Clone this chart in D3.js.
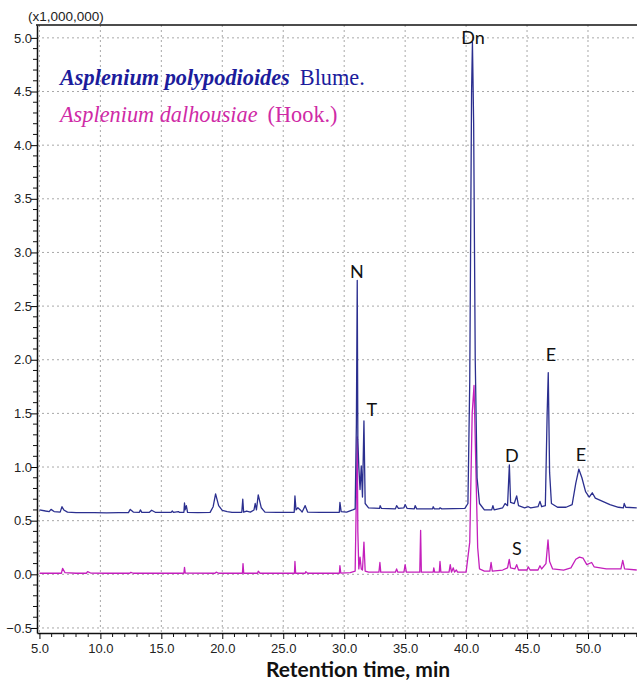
<!DOCTYPE html>
<html>
<head>
<meta charset="utf-8">
<script src="https://cdn.jsdelivr.net/npm/d3@7"></script>
<style>
  body { margin: 0; background: #fff; }
  svg { display: block; }
</style>
</head>
<body>
<svg id="chart" width="637" height="682"></svg>
<script>
// retention time (min) / intensity (x1,000,000)
var blueTime = [5.0, 5.5, 5.8, 5.95, 6.2, 6.7, 6.85, 7.0, 7.3, 8.0, 9.5, 10.5, 11.5, 12.3, 12.45, 12.7, 13.2, 13.28, 13.4, 14.0,
    14.2, 14.5, 15.8, 15.9, 16.0, 16.4, 16.5, 16.85, 16.9, 16.95, 17.05, 17.15, 18.0, 19.0, 19.25, 19.45, 19.7, 20.0, 20.4, 20.8,
    21.6, 21.68, 21.75, 22.0, 22.3, 22.6, 22.7, 22.8, 22.95, 23.2, 23.5, 24.5, 25.9, 25.96, 26.05, 26.2, 26.4, 26.55, 26.8, 27.0,
    28.0, 29.6, 29.65, 29.75, 30.2, 30.7, 30.9, 31.0, 31.07, 31.12, 31.2, 31.3, 31.4, 31.5, 31.62, 31.72, 32.0, 32.9, 32.95, 33.05,
    34.2, 34.3, 34.45, 34.9, 35.0, 35.15, 35.75, 35.82, 35.95, 37.25, 37.3, 37.4, 37.8, 37.86, 38.0, 39.9, 40.15, 40.3, 40.45, 40.52,
    40.62, 40.75, 40.9, 41.1, 41.5, 42.1, 42.2, 42.3, 43.0, 43.2, 43.4, 43.55, 43.65, 43.95, 44.15, 44.3, 44.8, 45.1, 45.3, 45.9,
    46.06, 46.2, 46.5, 46.65, 46.74, 46.85, 47.0, 47.5, 48.2, 48.7, 49.0, 49.25, 49.5, 49.8, 50.1, 50.35, 50.6, 51.2, 51.8, 52.5,
    52.9, 52.97, 53.1, 54.0];
var blueValue = [0.60, 0.59, 0.585, 0.605, 0.585, 0.58, 0.63, 0.60, 0.58, 0.575, 0.575, 0.573, 0.575, 0.575, 0.605, 0.58, 0.578, 0.60, 0.577, 0.577,
    0.597, 0.578, 0.577, 0.59, 0.577, 0.585, 0.577, 0.578, 0.665, 0.60, 0.64, 0.578, 0.575, 0.577, 0.63, 0.75, 0.64, 0.595, 0.585, 0.578,
    0.578, 0.70, 0.58, 0.59, 0.58, 0.60, 0.66, 0.60, 0.74, 0.62, 0.58, 0.577, 0.578, 0.73, 0.60, 0.62, 0.60, 0.58, 0.64, 0.58,
    0.577, 0.578, 0.67, 0.585, 0.58, 0.60, 0.61, 1.40, 2.74, 1.26, 1.00, 0.79, 1.01, 0.72, 1.43, 0.66, 0.62, 0.615, 0.64, 0.615,
    0.61, 0.64, 0.615, 0.62, 0.65, 0.615, 0.61, 0.64, 0.61, 0.61, 0.63, 0.61, 0.61, 0.62, 0.61, 0.615, 0.66, 1.80, 4.50, 4.96,
    4.20, 2.00, 0.90, 0.66, 0.60, 0.60, 0.64, 0.60, 0.62, 0.66, 0.64, 1.02, 0.67, 0.66, 0.73, 0.64, 0.62, 0.63, 0.62, 0.63,
    0.68, 0.63, 0.64, 1.50, 1.88, 0.95, 0.66, 0.625, 0.625, 0.65, 0.85, 0.98, 0.90, 0.77, 0.72, 0.76, 0.71, 0.68, 0.65, 0.625,
    0.62, 0.66, 0.625, 0.62];

var pinkTime = [5.0, 6.8, 6.9, 7.1, 8.0, 8.85, 8.95, 9.2, 10.5, 12.4, 12.5, 12.7, 16.85, 16.9, 16.96, 19.4, 19.5, 19.7, 21.65, 21.7,
    21.76, 22.9, 22.95, 23.1, 25.92, 25.96, 26.02, 26.8, 26.85, 27.0, 29.6, 29.65, 29.72, 30.5, 30.9, 31.02, 31.07, 31.12, 31.2, 31.3,
    31.4, 31.5, 31.62, 31.72, 32.0, 32.85, 32.93, 33.0, 34.2, 34.3, 34.4, 34.9, 35.0, 35.1, 36.2, 36.27, 36.33, 37.3, 37.35, 37.42,
    37.8, 37.86, 37.93, 38.6, 38.7, 38.8, 38.95, 39.05, 39.2, 39.3, 40.0, 40.3, 40.5, 40.65, 40.8, 40.95, 41.1, 41.5, 41.95, 42.05,
    42.15, 43.0, 43.4, 43.54, 43.65, 44.0, 44.15, 44.3, 45.0, 45.1, 45.25, 45.9, 46.06, 46.2, 46.55, 46.72, 46.85, 47.1, 48.0, 48.6,
    49.0, 49.3, 49.6, 49.9, 50.3, 50.5, 51.5, 52.7, 52.85, 53.0, 54.0];
var pinkValue = [0.01, 0.01, 0.055, 0.015, 0.01, 0.01, 0.025, 0.012, 0.01, 0.01, 0.018, 0.01, 0.01, 0.065, 0.012, 0.01, 0.02, 0.01, 0.01, 0.10,
    0.01, 0.01, 0.03, 0.01, 0.01, 0.12, 0.01, 0.01, 0.025, 0.01, 0.01, 0.08, 0.012, 0.015, 0.03, 0.90, 1.28, 0.40, 0.05, 0.16,
    0.05, 0.04, 0.30, 0.03, 0.02, 0.02, 0.11, 0.02, 0.02, 0.05, 0.02, 0.02, 0.09, 0.02, 0.02, 0.41, 0.02, 0.02, 0.06, 0.02,
    0.02, 0.12, 0.02, 0.02, 0.09, 0.02, 0.06, 0.02, 0.04, 0.02, 0.02, 0.30, 1.50, 1.76, 1.00, 0.25, 0.05, 0.03, 0.03, 0.11,
    0.03, 0.04, 0.06, 0.14, 0.06, 0.05, 0.09, 0.04, 0.04, 0.07, 0.04, 0.04, 0.08, 0.05, 0.10, 0.32, 0.12, 0.05, 0.04, 0.06,
    0.14, 0.16, 0.15, 0.09, 0.11, 0.07, 0.05, 0.05, 0.13, 0.05, 0.04];

// peak labels: text, time, intensity of the label baseline
var peakNames = ["Dn", "N", "T", "E", "D", "E", "S"];
var peakTimes = [40.56, 31.05, 32.27, 46.96, 43.76, 49.42, 44.17];
var peakLevels = [4.94, 2.76, 1.48, 1.99, 1.05, 1.06, 0.18];

var xTicks = [5, 10, 15, 20, 25, 30, 35, 40, 45, 50];
var yTicks = [-0.5, 0, 0.5, 1, 1.5, 2, 2.5, 3, 3.5, 4, 4.5, 5];

var blueColor = "#2b2f8f";
var pinkColor = "#c41fbc";

var svg = d3.select("#chart");

var chartX = d3.scaleLinear().domain([4.8, 54.02]).range([37, 637]);
var chartY = d3.scaleLinear().domain([-0.547, 5.12]).range([633, 25]);

/* grid */
svg.append("g")
    .selectAll("line")
    .data(xTicks)
    .enter().append("line")
    .attr("x1", function (d) { return chartX(d); })
    .attr("x2", function (d) { return chartX(d); })
    .attr("y1", 25)
    .attr("y2", 633)
    .attr("stroke", "#a8a8a8")
    .attr("stroke-width", 1)
    .attr("stroke-dasharray", "2,3");

svg.append("g")
    .selectAll("line")
    .data(yTicks)
    .enter().append("line")
    .attr("x1", 37)
    .attr("x2", 637)
    .attr("y1", function (d) { return chartY(d); })
    .attr("y2", function (d) { return chartY(d); })
    .attr("stroke", "#a8a8a8")
    .attr("stroke-width", 1)
    .attr("stroke-dasharray", "2,3");

/* traces */
var valueline = d3.line()
    .x(function (d) { return chartX(d[0]); })
    .y(function (d) { return chartY(d[1]); });

var pinkData = d3.zip(pinkTime, pinkValue);
var blueData = d3.zip(blueTime, blueValue);

svg.append("path")
    .attr("d", valueline(pinkData))
    .attr("fill", "none")
    .attr("stroke", pinkColor)
    .attr("stroke-width", 1.3)
    .attr("stroke-linejoin", "round");

svg.append("path")
    .attr("d", valueline(blueData))
    .attr("fill", "none")
    .attr("stroke", blueColor)
    .attr("stroke-width", 1.3)
    .attr("stroke-linejoin", "round");

/* minor ticks */
var minorX = d3.range(5, 54.01, 1).filter(function (d) { return d % 5 !== 0; });
var minorY = d3.range(-5, 51, 1).map(function (d) { return d / 10; })
    .filter(function (d) { return Math.round(d * 10) % 5 !== 0; });

svg.append("g")
    .selectAll("line")
    .data(minorX)
    .enter().append("line")
    .attr("x1", function (d) { return chartX(d); })
    .attr("x2", function (d) { return chartX(d); })
    .attr("y1", 633)
    .attr("y2", 637)
    .attr("stroke", "#111");

svg.append("g")
    .selectAll("line")
    .data(minorY)
    .enter().append("line")
    .attr("x1", 33)
    .attr("x2", 37)
    .attr("y1", function (d) { return chartY(d); })
    .attr("y2", function (d) { return chartY(d); })
    .attr("stroke", "#111");

/* axes */
svg.append("g")
    .attr("transform", "translate(0,633)")
    .call(d3.axisBottom(chartX)
        .tickValues(xTicks)
        .tickSize(6)
        .tickSizeOuter(0)
        .tickFormat(d3.format(".1f")))
    .call(function (g) {
        g.select(".domain").attr("stroke", "#111").attr("stroke-width", 1.5);
        g.selectAll("text").attr("font-family", "Liberation Sans, Arial, sans-serif")
            .attr("font-size", 13).attr("fill", "#222").attr("dy", "0.85em");
    });

svg.append("g")
    .attr("transform", "translate(37,0)")
    .call(d3.axisLeft(chartY)
        .tickValues(yTicks)
        .tickSize(6)
        .tickSizeOuter(0)
        .tickFormat(d3.format(".1f")))
    .call(function (g) {
        g.select(".domain").attr("stroke", "#111").attr("stroke-width", 1.5);
        g.selectAll("text").attr("font-family", "Liberation Sans, Arial, sans-serif")
            .attr("font-size", 13).attr("fill", "#222").attr("x", -5);
    });

// top frame
svg.append("line")
    .attr("x1", 36).attr("x2", 637)
    .attr("y1", 25).attr("y2", 25)
    .attr("stroke", "#111")
    .attr("stroke-width", 1.5);

svg.append("text")
    .attr("x", 28)
    .attr("y", 21)
    .attr("font-family", "Liberation Sans, Arial, sans-serif")
    .attr("font-size", 13.5)
    .attr("fill", "#222")
    .text("(x1,000,000)");

svg.append("text")
    .attr("x", 358)
    .attr("y", 677)
    .attr("text-anchor", "middle")
    .attr("font-family", "Lato, 'Open Sans', sans-serif")
    .attr("font-weight", "bold")
    .attr("font-size", 21)
    .attr("fill", "#111")
    .text("Retention time, min");

/* peak labels */
svg.append("g")
    .selectAll("text")
    .data(peakNames)
    .enter().append("text")
    .attr("x", function (d, i) { return chartX(peakTimes[i]); })
    .attr("y", function (d, i) { return chartY(peakLevels[i]); })
    .attr("text-anchor", "middle")
    .attr("font-family", "Lato, 'Open Sans', sans-serif")
    .attr("font-size", 18)
    .attr("fill", "#111")
    .text(function (d) { return d; });

/* legend */
var leg1 = svg.append("text")
    .attr("x", 60)
    .attr("y", 85)
    .attr("font-family", "Liberation Serif, 'Times New Roman', serif")
    .attr("font-size", 22.3)
    .attr("fill", "#1c1c9c");
leg1.append("tspan").attr("font-style", "italic").attr("font-weight", "bold").text("Asplenium polypodioides");
leg1.append("tspan").attr("dx", 10).text("Blume.");

var leg2 = svg.append("text")
    .attr("x", 60)
    .attr("y", 122)
    .attr("font-family", "Liberation Serif, 'Times New Roman', serif")
    .attr("font-size", 22.3)
    .attr("fill", "#cf2aa6");
leg2.append("tspan").attr("font-style", "italic").text("Asplenium dalhousiae");
leg2.append("tspan").attr("dx", 10).text("(Hook.)");
</script>
</body>
</html>
